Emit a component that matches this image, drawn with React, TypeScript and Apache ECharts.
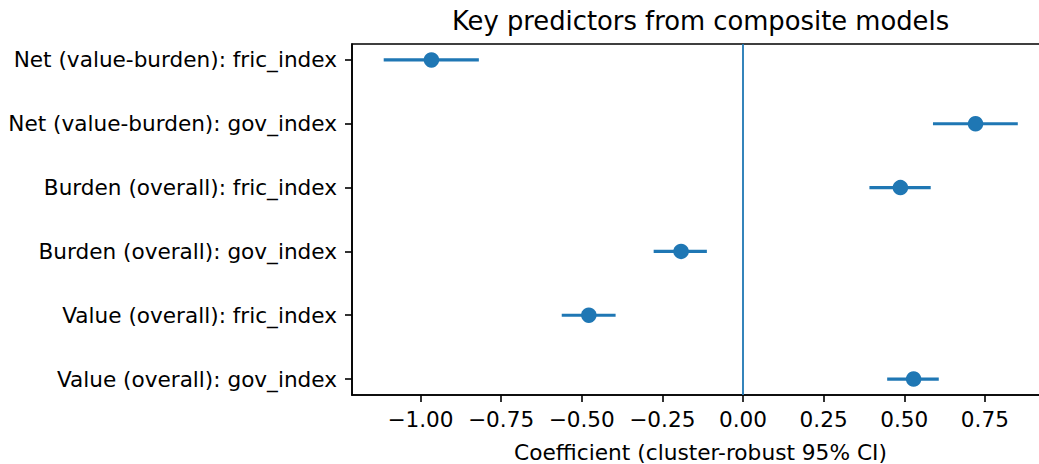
import React, { useEffect, useRef } from "react";
import * as echarts from "echarts";

// Categories listed from bottom (y = 0) to top (y = 5)
const categories = [
  "Value (overall): gov_index",
  "Value (overall): fric_index",
  "Burden (overall): gov_index",
  "Burden (overall): fric_index",
  "Net (value-burden): gov_index",
  "Net (value-burden): fric_index",
];
const coefs = [0.529, -0.478, -0.192, 0.488, 0.721, -0.966];
const ciLow = [0.447, -0.562, -0.277, 0.392, 0.589, -1.114];
const ciHigh = [0.607, -0.395, -0.112, 0.582, 0.852, -0.819];
const xTicks = [-1.0, -0.75, -0.5, -0.25, 0.0, 0.25, 0.5, 0.75];
const yTicks = [0, 1, 2, 3, 4, 5];

const TITLE = "Key predictors from composite models";
const XLABEL = "Coefficient (cluster-robust 95% CI)";
const BLUE = "#1f77b4";
const FONT = "DejaVu Sans";

export default function App() {
  const ref = useRef<HTMLDivElement>(null);

  useEffect(() => {
    if (!ref.current) return;
    const chart = echarts.init(ref.current, null, { renderer: "svg" });

    const lo = Math.min(...ciLow, 0);
    const hi = Math.max(...ciHigh, 0);
    const pad = (hi - lo) * 0.05;
    const xMin = lo - pad;
    const xMax = hi + pad;

    const fmt = (v: number) => {
      const s = Math.abs(v).toFixed(2);
      return v < -1e-9 ? "\u2212" + s : s;
    };

    chart.setOption({
      animation: false,
      grid: {
        left: 352,
        right: 10.5,
        top: 44,
        bottom: 69,
        show: true,
        borderColor: "#000",
        borderWidth: 1.6,
        backgroundColor: "transparent",
      },
      xAxis: {
        type: "value",
        min: xMin,
        max: xMax,
        splitLine: { show: false },
        axisLine: { show: true, onZero: false, lineStyle: { color: "#000", width: 1.6 } },
        axisTick: {
          show: true,
          customValues: xTicks,
          length: 7,
          inside: false,
          lineStyle: { color: "#000", width: 1.6 },
        },
        axisLabel: {
          customValues: xTicks,
          formatter: (v: number) => fmt(v),
          fontFamily: FONT,
          fontSize: 21.6,
          color: "#000",
          margin: 13,
        },
      },
      yAxis: {
        type: "value",
        min: -0.25,
        max: 5.25,
        splitLine: { show: false },
        axisLine: { show: true, onZero: false, lineStyle: { color: "#000", width: 1.6 } },
        axisTick: {
          show: true,
          customValues: yTicks,
          length: 7,
          inside: false,
          lineStyle: { color: "#000", width: 1.6 },
        },
        axisLabel: {
          customValues: yTicks,
          formatter: (v: number) => categories[Math.round(v)] ?? "",
          fontFamily: FONT,
          fontSize: 21.6,
          color: "#000",
          margin: 15,
        },
      },
      graphic: [
        {
          type: "text",
          x: 700.5,
          y: 21,
          style: {
            text: TITLE,
            font: `25.8px "${FONT}"`,
            fill: "#000",
            textAlign: "center",
            textVerticalAlign: "middle",
          },
        },
        {
          type: "text",
          x: 700.5,
          y: 452.5,
          style: {
            text: XLABEL,
            font: `21.7px "${FONT}"`,
            fill: "#000",
            textAlign: "center",
            textVerticalAlign: "middle",
          },
        },
      ],
      series: [
        {
          type: "custom",
          coordinateSystem: "cartesian2d",
          encode: { x: [1, 2], y: 0 },
          data: categories.map((_, i) => [i, ciLow[i], ciHigh[i]]),
          renderItem: (params: any, api: any) => {
            const y = api.value(0);
            const p1 = api.coord([api.value(1), y]);
            const p2 = api.coord([api.value(2), y]);
            return {
              type: "line",
              shape: { x1: p1[0], y1: p1[1], x2: p2[0], y2: p2[1] },
              style: { stroke: BLUE, lineWidth: 3.2 },
            };
          },
          z: 2,
          silent: true,
        },
        {
          type: "scatter",
          data: categories.map((_, i) => [coefs[i], i]),
          symbol: "circle",
          symbolSize: 15.5,
          itemStyle: { color: BLUE, opacity: 1 },
          z: 3,
          silent: true,
          markLine: {
            silent: true,
            symbol: "none",
            label: { show: false },
            lineStyle: { color: BLUE, width: 1.8, type: "solid" },
            data: [{ xAxis: 0 }],
          },
        },
      ],
    });

    return () => chart.dispose();
  }, []);

  return (
    <div
      style={{
        position: "fixed",
        left: 0,
        top: 0,
        width: 1039,
        height: 464,
        overflow: "hidden",
        background: "#fff",
      }}
    >
      <div ref={ref} style={{ width: 1060, height: 464 }} />
    </div>
  );
}
